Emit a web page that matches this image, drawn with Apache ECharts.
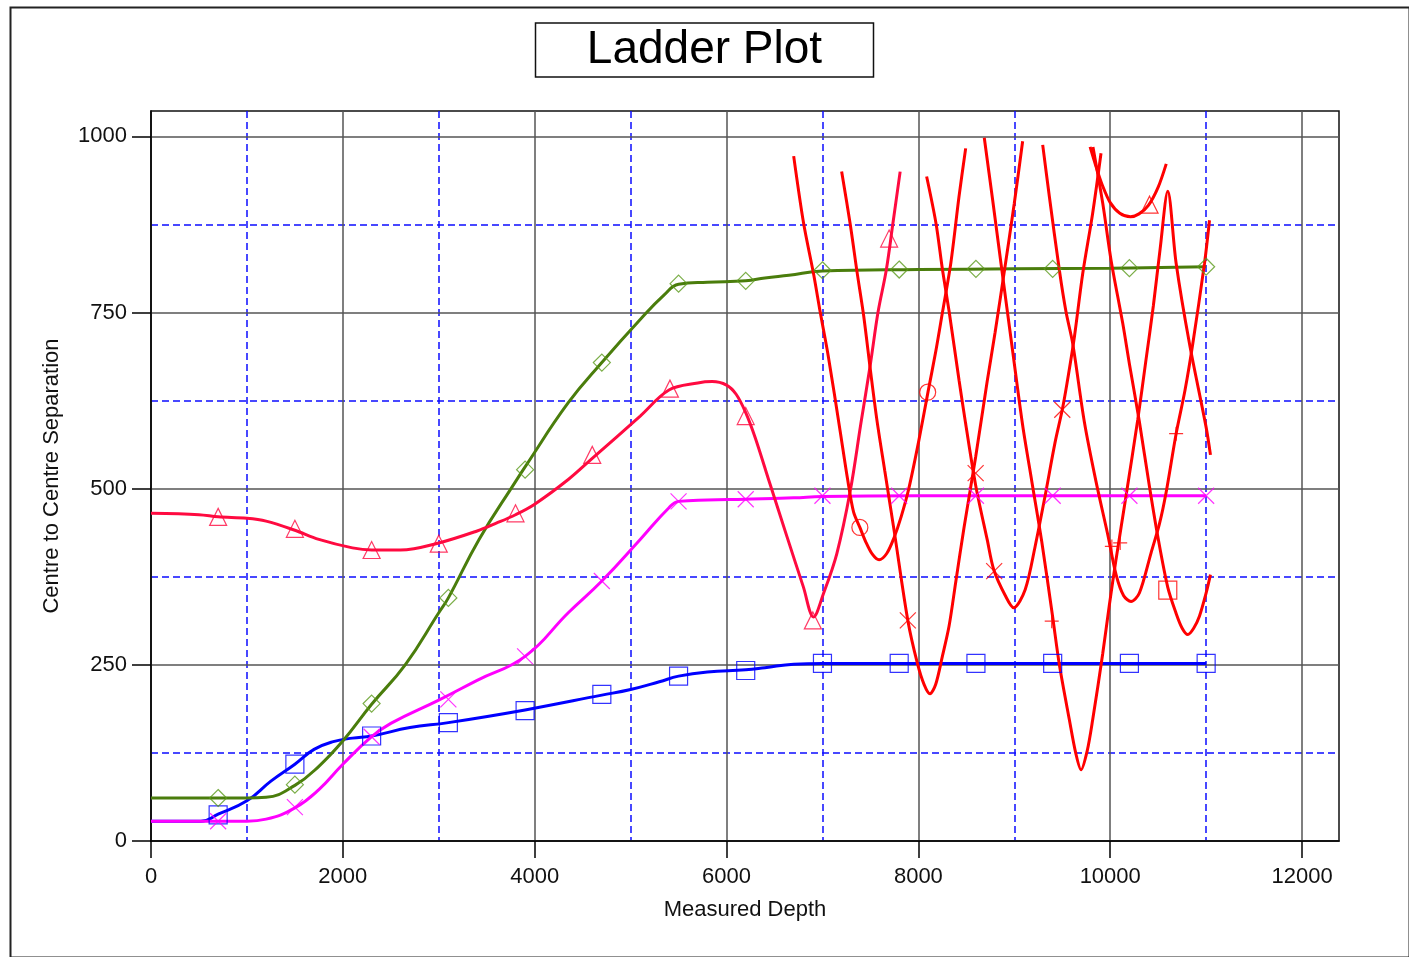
<!DOCTYPE html>
<html>
<head>
<meta charset="utf-8">
<script src="https://cdn.jsdelivr.net/npm/echarts@6/dist/echarts.min.js"></script>
<style>
html,body{margin:0;padding:0;background:#fff;}
#chart{width:1409px;height:957px;}
</style>
</head>
<body>
<div id="chart"></div>
<script>
// ---- axis ticks ----
const xTicks = [0, 2000, 4000, 6000, 8000, 10000, 12000];
const xMinorTicks = [1000, 3000, 5000, 7000, 9000, 11000];
const yTicks = [0, 250, 500, 750, 1000];
const yMinorTicks = [125, 375, 625, 875];
const xMax = 12385;
const yMax = 1036;

// ---- main reference curves (Measured Depth, Separation) ----
const greenLine = [[0,61],[500,61],[1000,61],[1200,62],[1500,79],[1750,106],[2000,142],[2300,194],[2650,250],[3000,324],[3100,345],[3420,428],[3800,510],[3900,531],[4350,622],[4700,679],[5100,740],[5350,775],[5500,790],[5800,793],[6200,795],[6400,799],[6650,803],[7000,809],[8000,811],[9000,812],[10000,813],[11000,815]];
const greenMarks = [[700,61],[1500,80],[2300,195],[3100,345],[3900,527],[4700,679],[5500,791],[6200,795],[7000,810],[7800,811],[8600,812],[9400,812],[10200,813],[11000,815]];

const magentaLine = [[0,28],[500,28],[1000,28],[1200,31],[1500,47],[1750,73],[2000,109],[2300,148],[2500,167],[3000,200],[3400,228],[3900,262],[4350,324],[4700,369],[5100,428],[5400,473],[5500,482],[5800,484],[6200,485],[6700,487],[7000,489],[8000,490],[9000,490],[10000,490],[11000,490]];
const magentaMarks = [[700,28],[1500,48],[2300,148],[3100,201],[3900,262],[4700,369],[5500,482],[6200,485],[7000,490],[7800,490],[8600,490],[9400,490],[10200,490],[11000,490]];

const blueLine = [[0,28],[520,28],[700,38],[1000,57],[1250,85],[1500,109],[1700,130],[1900,141],[2100,146],[2300,149],[2700,161],[3100,168],[3900,186],[4700,207],[5000,215],[5300,226],[5500,234],[5800,240],[6200,243],[6400,246],[6700,251],[7000,252],[8000,252],[9000,252],[10000,252],[11000,252]];
const blueMarks = [[700,37],[1500,109],[2300,149],[3100,168],[3900,185],[4700,208],[5500,234],[6200,242],[7000,252],[7800,252],[8600,252],[9400,252],[10200,252],[11000,252]];

const crimsonLine = [[0,465],[500,463],[700,460],[1000,458],[1200,454],[1500,441],[1750,428],[2100,416],[2300,413],[2600,413],[3000,423],[3400,440],[3600,451],[3800,463],[4000,478],[4350,513],[4600,543],[5100,603],[5400,640],[5700,650],[5850,652],[6000,647],[6100,634],[6200,608],[6300,572],[6450,508],[6630,432],[6800,361],[6907,318],[7010,351],[7150,408],[7290,497],[7400,592],[7500,677],[7580,751],[7665,810],[7735,877],[7810,950]];
const crimsonMarks = [[700,460],[1500,443],[2300,413],[3000,422],[3800,465],[4600,548],[5410,642],[6200,603],[6900,313],[7695,855]];

// ---- offset well crossings (red) ----
const circleLine = [[6700,972],[6803,877],[6907,805],[6976,751],[7062,687],[7183,583],[7260,515],[7324,467],[7390,445],[7450,425],[7520,407],[7590,399],[7670,408],[7745,430],[7820,460],[7900,500],[8000,565],[8100,637],[8183,696],[8252,751],[8338,820],[8424,915],[8493,983]];
const circleMarks = [[7390,445],[8097,637]];

const crossLineA = [[7200,950],[7290,875],[7360,808],[7430,745],[7500,668],[7567,598],[7650,525],[7750,438],[7890,313],[7990,252],[8060,222],[8121,209],[8180,222],[8250,262],[8320,305],[8390,368],[8476,445],[8597,545],[8717,652],[8800,722],[8900,812],[9000,905],[9087,993]];
const crossMarksA = [[7890,313],[8597,522]];

const crossLineB = [[8086,943],[8183,877],[8252,810],[8321,751],[8424,654],[8493,592],[8597,505],[8717,428],[8786,385],[8907,348],[8993,331],[9114,357],[9217,418],[9320,489],[9424,565],[9500,612],[9550,650],[9626,715],[9713,805],[9817,891],[9904,976]];
const crossMarksB = [[8790,383],[9500,612]];

const plusLineA = [[8687,998],[8774,910],[8861,820],[8983,695],[9087,590],[9183,510],[9286,425],[9400,318],[9470,250],[9574,172],[9640,125],[9696,101],[9760,128],[9817,172],[9922,266],[9991,335],[10061,400],[10165,490],[10287,598],[10370,680],[10450,760],[10520,840],[10600,922],[10687,820],[10826,706],[11000,587],[11045,548]];
const plusMarksA = [[9390,312],[10104,423]];

const plusLineB = [[9296,988],[9365,915],[9470,810],[9539,751],[9609,706],[9730,595],[9852,510],[9974,435],[10061,378],[10140,348],[10217,340],[10304,352],[10426,409],[10513,450],[10583,495],[10687,578],[10780,640],[10861,706],[10983,820],[11035,881]];
const plusMarksB = [[10017,418],[10687,578]];

const squareLine = [[9820,985],[9922,905],[10009,824],[10130,735],[10200,677],[10304,595],[10409,503],[10496,432],[10600,360],[10687,323],[10750,302],[10809,293],[10870,302],[10930,319],[11000,352],[11045,378]];
const squareMarks = [[10600,356]];

const triLine = [[9790,985],[9850,958],[9920,930],[10000,906],[10100,891],[10212,886],[10300,890],[10398,902],[10500,928],[10584,961]];
const triMarks = [[10410,903]];

// ---- styles ----
const FONT = '"Liberation Sans", Arial, sans-serif';
const GREEN = '#4a7d0c', BLUE = '#0000ff', MAGENTA = '#ff00ff', CRIMSON = '#ff0a40', RED = '#ff0000';
const SYM_X = 'path://M0,0L10,10M10,0L0,10';
const SYM_PLUS = 'path://M5,0L5,10M0,5L10,5';
const plainNumber = function (v) { return String(v); };

function lineSeries(name, data, color, z, smooth) {
  return {
    name: name, type: 'line', data: data, xAxisIndex: 0, yAxisIndex: 0,
    smooth: smooth, symbol: 'none', z: z,
    lineStyle: { color: color, width: 3 },
    silent: true, animation: false
  };
}
function markSeries(name, data, color, symbol, size) {
  return {
    name: name, type: 'scatter', data: data, xAxisIndex: 0, yAxisIndex: 0,
    symbol: symbol, symbolSize: size, z: 6,
    itemStyle: { color: 'rgba(0,0,0,0)', borderColor: color, borderWidth: 1.2 },
    silent: true, animation: false
  };
}

const chart = echarts.init(document.getElementById('chart'));
chart.setOption({
  backgroundColor: '#ffffff',
  animation: false,
  title: {
    text: 'Ladder Plot',
    left: 'center',
    top: 23,
    padding: [4, 52, 4, 52],
    borderColor: '#111',
    borderWidth: 1.5,
    textStyle: { fontFamily: FONT, fontSize: 46, fontWeight: 'normal', color: '#000' }
  },
  graphic: [{
    type: 'rect', left: 8, top: 5, silent: true,
    shape: { width: 1399, height: 950 },
    style: { fill: 'none', stroke: '#222', lineWidth: 2 }
  }],
  grid: {
    left: 151, top: 111, width: 1188, height: 730,
    show: true, borderColor: '#111', borderWidth: 1.5, backgroundColor: '#fff'
  },
  xAxis: [{
    type: 'value', min: 0, max: xMax, interval: 2000, position: 'bottom', z: 2,
    name: 'Measured Depth', nameLocation: 'middle', nameGap: 58,
    nameTextStyle: { fontFamily: FONT, fontSize: 22, color: '#111' },
    axisLine: { show: true, onZero: false, lineStyle: { color: '#000', width: 1.5 } },
    axisTick: { show: true, length: 17, customValues: xTicks, lineStyle: { color: '#000', width: 1.5 } },
    axisLabel: { show: true, customValues: xTicks, formatter: plainNumber, margin: 25, fontFamily: FONT, fontSize: 22, color: '#111' },
    splitLine: { show: true, lineStyle: { color: '#555', width: 1.5 } }
  }, {
    type: 'value', min: 0, max: xMax, interval: 1000, z: 1,
    axisLine: { show: false }, axisLabel: { show: false },
    axisTick: { show: false, customValues: xMinorTicks },
    splitLine: { show: true, lineStyle: { color: '#0c0cff', width: 1.5, type: [7, 4] } }
  }],
  yAxis: [{
    type: 'value', min: 0, max: yMax, interval: 250, position: 'left', z: 2,
    name: 'Centre to Centre Separation', nameLocation: 'middle', nameGap: 88,
    nameTextStyle: { fontFamily: FONT, fontSize: 22, color: '#111' },
    axisLine: { show: true, onZero: false, lineStyle: { color: '#000', width: 1.5 } },
    axisTick: { show: true, length: 19, customValues: yTicks, lineStyle: { color: '#000', width: 1.5 } },
    axisLabel: { show: true, customValues: yTicks, formatter: plainNumber, margin: 24, fontFamily: FONT, fontSize: 22, color: '#111' },
    splitLine: { show: true, lineStyle: { color: '#555', width: 1.5 } }
  }, {
    type: 'value', min: 0, max: yMax, interval: 125, z: 1,
    axisLine: { show: false }, axisLabel: { show: false },
    axisTick: { show: false, customValues: yMinorTicks },
    splitLine: { show: true, lineStyle: { color: '#0c0cff', width: 1.5, type: [7, 4] } }
  }],
  series: [
    lineSeries('Blue', blueLine, BLUE, 3, 0.45),
    lineSeries('Magenta', magentaLine, MAGENTA, 3, 0.45),
    lineSeries('Green', greenLine, GREEN, 3, 0.45),
    lineSeries('Crimson', crimsonLine, CRIMSON, 4, 0.35),
    lineSeries('Circle well', circleLine, RED, 4, 0.3),
    lineSeries('Cross well A', crossLineA, RED, 4, 0.3),
    lineSeries('Cross well B', crossLineB, RED, 4, 0.3),
    lineSeries('Plus well A', plusLineA, RED, 4, 0.3),
    lineSeries('Plus well B', plusLineB, RED, 4, 0.3),
    lineSeries('Square well', squareLine, RED, 4, 0.3),
    lineSeries('Triangle well', triLine, RED, 4, 0.3),
    markSeries('Blue marks', blueMarks, BLUE, 'rect', 18),
    markSeries('Magenta marks', magentaMarks, MAGENTA, SYM_X, 16),
    markSeries('Green marks', greenMarks, '#5a9a1a', 'diamond', 17),
    markSeries('Crimson marks', crimsonMarks, CRIMSON, 'triangle', 17),
    markSeries('Circle marks', circleMarks, RED, 'circle', 16),
    markSeries('Cross marks A', crossMarksA, RED, SYM_X, 16),
    markSeries('Cross marks B', crossMarksB, RED, SYM_X, 16),
    markSeries('Plus marks A', plusMarksA, RED, SYM_PLUS, 14),
    markSeries('Plus marks B', plusMarksB, RED, SYM_PLUS, 14),
    markSeries('Square marks', squareMarks, RED, 'rect', 18),
    markSeries('Triangle marks', triMarks, RED, 'triangle', 17)
  ]
});
</script>
</body>
</html>
